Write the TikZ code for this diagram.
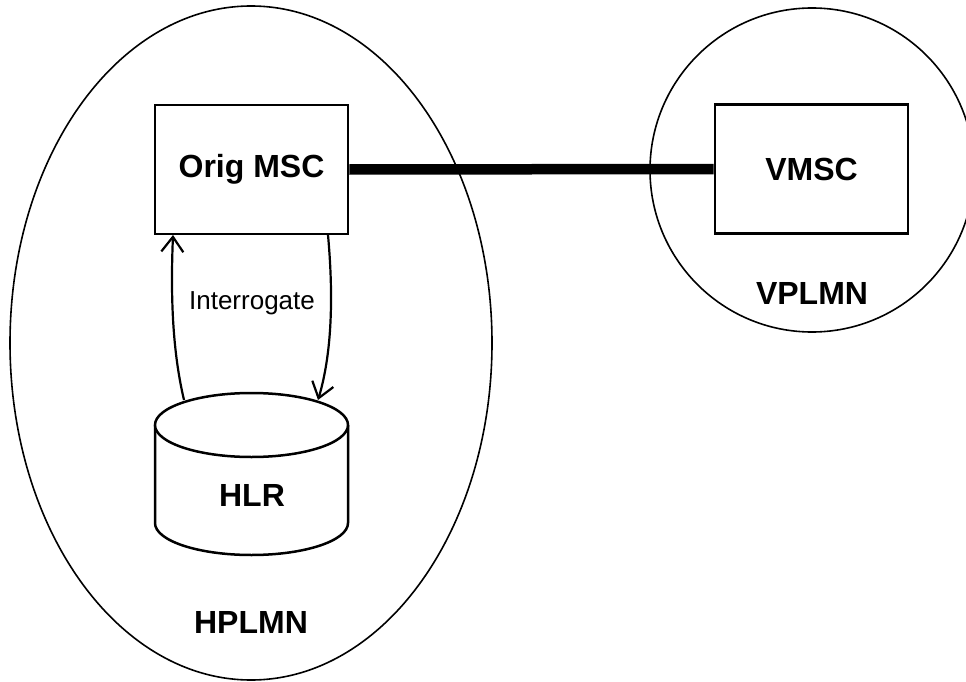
\documentclass[tikz,border=0pt]{standalone}
\usepackage{fontspec}
\setmainfont{Liberation Sans}
\usetikzlibrary{arrows.meta}
\tikzset{
  boxnode/.style={draw, line width=2.6pt, fill=white, minimum width=193pt, minimum height=129pt, inner sep=0pt, font=\fontsize{32}{38}\selectfont\bfseries},
  region/.style={draw, line width=1.6pt},
  lbl/.style={inner sep=0pt, font=\fontsize{32}{38}\selectfont\bfseries},
  small/.style={inner sep=0pt, font=\fontsize{26}{31}\selectfont},
  link/.style={line width=10.5pt},
  query/.style={line width=2.2pt, -{Straight Barb[length=15pt,width=22pt,line width=2.2pt]}},
}
\begin{document}
\begin{tikzpicture}[x=1pt,y=-1pt]
\useasboundingbox (0,0) rectangle (966,682);
\clip (0,0) rectangle (966,682);
% regions
\draw[region] (251,343) ellipse [x radius=241pt, y radius=337pt];
\draw[region] (812,170) circle [radius=162pt];
\node[lbl] (hplmn) at (251,622) {HPLMN};
\node[lbl] (vplmn) at (812,293) {VPLMN};
% MSC boxes
\node[boxnode] (orig) at (251.5,169.5) {Orig MSC};
\node[boxnode] (vmsc) at (811.5,169) {\raisebox{-5pt}{VMSC}};
\draw[link] (orig.east) -- (vmsc.west);
% HLR cylinder
\draw[line width=2.5pt, fill=white] (155,425) -- (155,523)
  arc[start angle=180, end angle=360, x radius=96.5pt, y radius=32pt]
  -- (348,425);
\draw[line width=2.5pt, fill=white] (251.5,425) ellipse [x radius=96.5pt, y radius=32pt];
\node[lbl] (hlr) at (252,495) {HLR};
% interrogate arrows
\coordinate (hlrL) at (184,400);
\coordinate (hlrR) at (318,400);
\coordinate (origL) at (173,235);
\coordinate (origR) at (328,235);
\draw[query] (hlrL) .. controls (171,345) and (171,285) .. (origL);
\draw[query] (origR) .. controls (333,290) and (333,350) .. (hlrR);
\node[small] (intg) at (252,303) {Interrogate};
\end{tikzpicture}
\end{document}
